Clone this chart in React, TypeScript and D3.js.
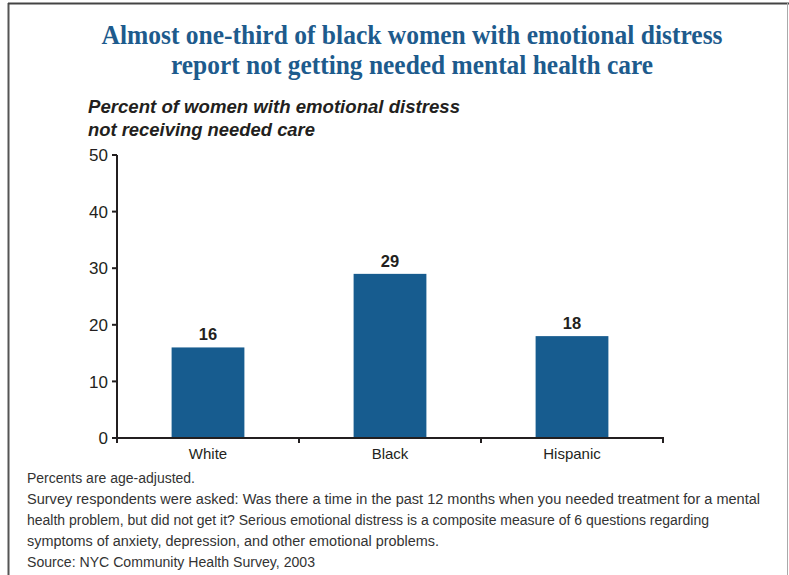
import React from "react";
import * as d3 from "d3";

const categories = ["White", "Black", "Hispanic"];
const values = [16, 29, 18];
const yTicks = [0, 10, 20, 30, 40, 50];
const titleLines = [
  "Almost one-third of black women with emotional distress",
  "report not getting needed mental health care",
];
const subtitleLines = [
  "Percent of women with emotional distress",
  "not receiving needed care",
];
const footerLines = [
  "Percents are age-adjusted.",
  "Survey respondents were asked: Was there a time in the past 12 months when you needed treatment for a mental",
  "health problem, but did not get it? Serious emotional distress is a composite measure of 6 questions regarding",
  "symptoms of anxiety, depression, and other emotional problems.",
  "Source: NYC Community Health Survey, 2003",
];

// measured text extents (layout only)
const titleLen = [621, 482];
const subtitleLen = [372, 227];
const footerLen = [168, 733, 682, 412, 288];

const W = 789;
const H = 575;
const BAR = "#175c8f";
const TITLE = "#1d5b8d";
const INK = "#231f20";
const SANS = "'Liberation Sans', Arial, Helvetica, sans-serif";
const SERIF = "'Liberation Serif', 'Times New Roman', serif";

export default function App() {
  const x = d3
    .scaleBand<string>()
    .domain(categories)
    .range([117, 663])
    .paddingInner(0.6)
    .paddingOuter(0.3);
  const y = d3.scaleLinear().domain([0, 50]).range([438, 155]);
  const step = x.step();
  const tickXs = d3.range(categories.length + 1).map((i) => 117 + i * step);

  return (
    <svg
      width={W}
      height={H}
      viewBox={`0 0 ${W} ${H}`}
      style={{ position: "absolute", left: 0, top: 0, background: "#fff" }}
    >
      <rect x={0} y={0} width={W} height={H} fill="#fff" />
      {/* frame */}
      <line x1={8.5} y1={3} x2={8.5} y2={H} stroke="#555" strokeWidth={2} />
      <line x1={8} y1={3.5} x2={W} y2={3.5} stroke="#444" strokeWidth={2} />
      <line x1={787.5} y1={3} x2={787.5} y2={H} stroke="#aaa" strokeWidth={1} />

      {/* title */}
      {titleLines.map((t, i) => (
        <text
          key={i}
          x={412}
          y={44 + i * 30}
          textAnchor="middle"
          fontFamily={SERIF}
          fontWeight="bold"
          fontSize={26.5}
          fill={TITLE}
          textLength={titleLen[i]}
          lengthAdjust="spacingAndGlyphs"
        >
          {t}
        </text>
      ))}

      {/* subtitle */}
      {subtitleLines.map((t, i) => (
        <text
          key={i}
          x={88}
          y={113 + i * 23}
          fontFamily={SANS}
          fontWeight="bold"
          fontStyle="italic"
          fontSize={18}
          fill={INK}
          textLength={subtitleLen[i]}
          lengthAdjust="spacingAndGlyphs"
        >
          {t}
        </text>
      ))}

      {/* bars */}
      {categories.map((c, i) => (
        <rect
          key={c}
          x={x(c)}
          y={y(values[i])}
          width={x.bandwidth()}
          height={y(0) - y(values[i])}
          fill={BAR}
        />
      ))}
      {categories.map((c, i) => (
        <text
          key={c + "v"}
          x={(x(c) as number) + x.bandwidth() / 2}
          y={y(values[i]) - 7}
          textAnchor="middle"
          fontFamily={SANS}
          fontWeight="bold"
          fontSize={16.5}
          fill={INK}
        >
          {values[i]}
        </text>
      ))}

      {/* y axis */}
      <line x1={117} y1={y(50)} x2={117} y2={y(0)} stroke={INK} strokeWidth={2} />
      {yTicks.map((t) => (
        <g key={t}>
          <line x1={112} y1={y(t)} x2={117} y2={y(t)} stroke={INK} strokeWidth={2} />
          <text
            x={108}
            y={y(t)}
            dy="0.36em"
            textAnchor="end"
            fontFamily={SANS}
            fontSize={17}
            fill={INK}
          >
            {t}
          </text>
        </g>
      ))}

      {/* x axis */}
      <line x1={116} y1={y(0)} x2={664} y2={y(0)} stroke={INK} strokeWidth={2} />
      {tickXs.map((tx, i) => (
        <line key={i} x1={tx} y1={y(0)} x2={tx} y2={y(0) + 5} stroke={INK} strokeWidth={2} />
      ))}
      {categories.map((c) => (
        <text
          key={c + "l"}
          x={(x(c) as number) + x.bandwidth() / 2}
          y={459}
          textAnchor="middle"
          fontFamily={SANS}
          fontSize={15}
          fill={INK}
        >
          {c}
        </text>
      ))}

      {/* footer */}
      {footerLines.map((t, i) => (
        <text
          key={i}
          x={27}
          y={483 + i * 21}
          fontFamily={SANS}
          fontSize={14}
          fill="#333"
          textLength={footerLen[i]}
          lengthAdjust="spacingAndGlyphs"
        >
          {t}
        </text>
      ))}
    </svg>
  );
}
